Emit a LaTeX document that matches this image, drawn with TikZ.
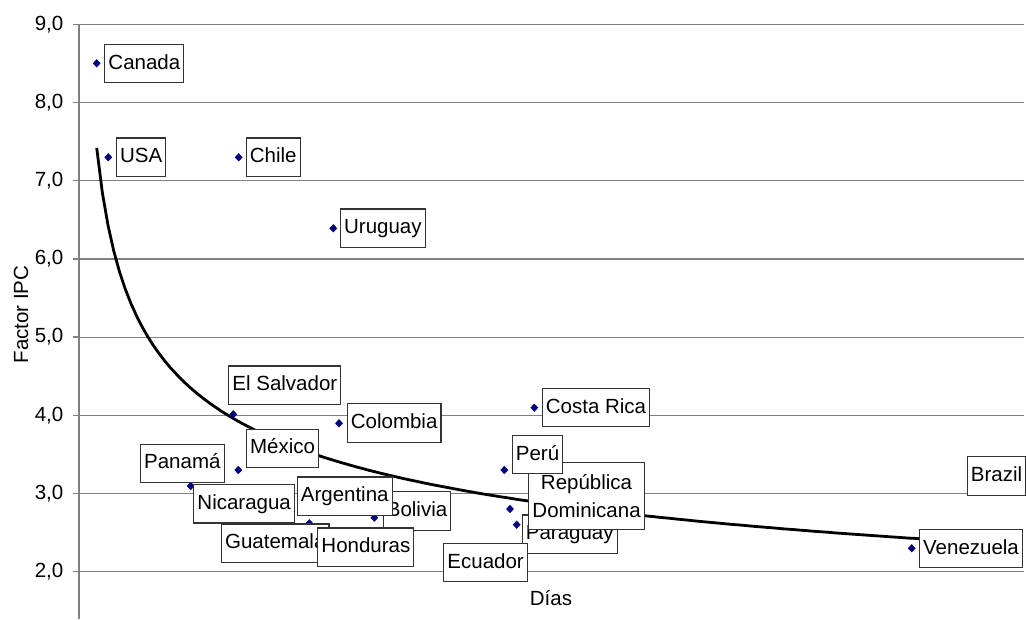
\documentclass[tikz,border=0pt]{standalone}
\usepackage{fontspec}
\setmainfont{Liberation Sans}
\usetikzlibrary{shapes.geometric}
\newcommand{\chfont}{\fontsize{20.5pt}{27.7pt}\selectfont}
\tikzset{
  gridln/.style={draw=black!50, line width=1.2pt},
  axisln/.style={draw=black!50, line width=1.3pt},
  ticklbl/.style={anchor=east, font=\chfont, inner sep=0pt},
  axlbl/.style={font=\chfont, inner sep=0pt},
  pt/.style={diamond, fill=navy, inner sep=0pt, minimum width=8pt, minimum height=8.5pt},
  lbl/.style={draw=black!80, line width=1.1pt, fill=white, font=\chfont, anchor=west,
              inner xsep=3.6pt, inner ysep=0pt, minimum height=38.5pt,
              text height=15pt, text depth=4pt},
  lbltwo/.style={draw=black!80, line width=1.1pt, fill=white, font=\chfont, anchor=west,
              inner xsep=3.6pt, inner ysep=0pt, minimum height=66.7pt, align=center},
  trend/.style={draw=black, line width=2.8pt}
}
\definecolor{navy}{RGB}{0,0,128}
\begin{document}
\begin{tikzpicture}[x=1pt, y=-1pt]
\useasboundingbox (0,0) rectangle (1026,619);
% gridlines and ticks
\foreach \v/\yy in {9/24.3, 8/102.5, 7/180.7, 6/258.9, 5/337.1, 4/415.3, 3/493.5, 2/571.7}{
  \coordinate (gl\v) at (79,\yy);
  \coordinate (gr\v) at (1024,\yy);
  \coordinate (tk\v) at (72.7,\yy);
  \draw[gridln] (gl\v) -- (gr\v);
  \draw[axisln] (tk\v) -- (gl\v);
  \node[ticklbl] (t\v) at (63.5,\yy) {\v,0};
}
\coordinate (axtop) at (79,24.3);
\coordinate (axbot) at (79,619);
\draw[axisln] (axtop) -- (axbot);
% axis titles
\node[axlbl, rotate=90] (ytitle) at (21,314.5) {Factor IPC};
\node[axlbl] (xtitle) at (551,598) {Días};
% trend line
\draw[trend] plot[domain=96.7:1000, samples=160, variable=\t]
  (\t, {24.3+(9-17.07*exp(-0.29*ln(\t-79)))*78.2});
% data points
\node[pt] (pCan) at (96.7,63.3) {};
\node[pt] (pUSA) at (108.3,157.3) {};
\node[pt] (pChi) at (238.7,157.3) {};
\node[pt] (pUru) at (333.3,228.3) {};
\node[pt] (pSal) at (233.3,414.3) {};
\node[pt] (pCol) at (339,423.3) {};
\node[pt] (pMex) at (238.3,470) {};
\node[pt] (pPan) at (190.7,486) {};
\node[pt] (pGua) at (309.3,523.3) {};
\node[pt] (pBol) at (374.3,517.7) {};
\node[pt] (pCos) at (534.3,407.7) {};
\node[pt] (pPer) at (504.3,470) {};
\node[pt] (pDom) at (510,509) {};
\node[pt] (pPar) at (516.7,524.7) {};
\node[pt] (pVen) at (911.7,548.3) {};
% labels
\node[lbl] (lCan) at (104.3,63.5) {Canada};
\node[lbl] (lUSA) at (116,157.2) {USA};
\node[lbl] (lChi) at (245.7,157.2) {Chile};
\node[lbl] (lUru) at (340,228.2) {Uruguay};
\node[lbl] (lSal) at (228.3,385.2) {El Salvador};
\node[lbl] (lCol) at (346.7,422.8) {Colombia};
\node[lbl] (lMex) at (246,448.3) {México};
\node[lbl] (lPan) at (140,463.3) {Panamá};
\node[lbl] (lNic) at (193.3,503.7) {Nicaragua};
\node[lbl] (lBol) at (382.7,510.8) {Bolivia};
\node[lbl] (lArg) at (296.7,496.2) {Argentina};
\node[lbl] (lGua) at (221,543.2) {Guatemala};
\node[lbl] (lHon) at (317.3,547.2) {Honduras};
\node[lbl] (lPar) at (521.7,534.2) {Paraguay};
\node[lbl] (lEcu) at (443.3,562.5) {Ecuador};
\node[lbltwo] (lDom) at (528.3,495.7) {República\\Dominicana};
\node[lbl] (lPer) at (511.7,454.5) {Perú};
\node[lbl] (lCos) at (541.7,407.5) {Costa Rica};
\node[lbl] (lBra) at (966.7,475.8) {Brazil};
\node[lbl] (lVen) at (919,548.5) {Venezuela};
\end{tikzpicture}
\end{document}
